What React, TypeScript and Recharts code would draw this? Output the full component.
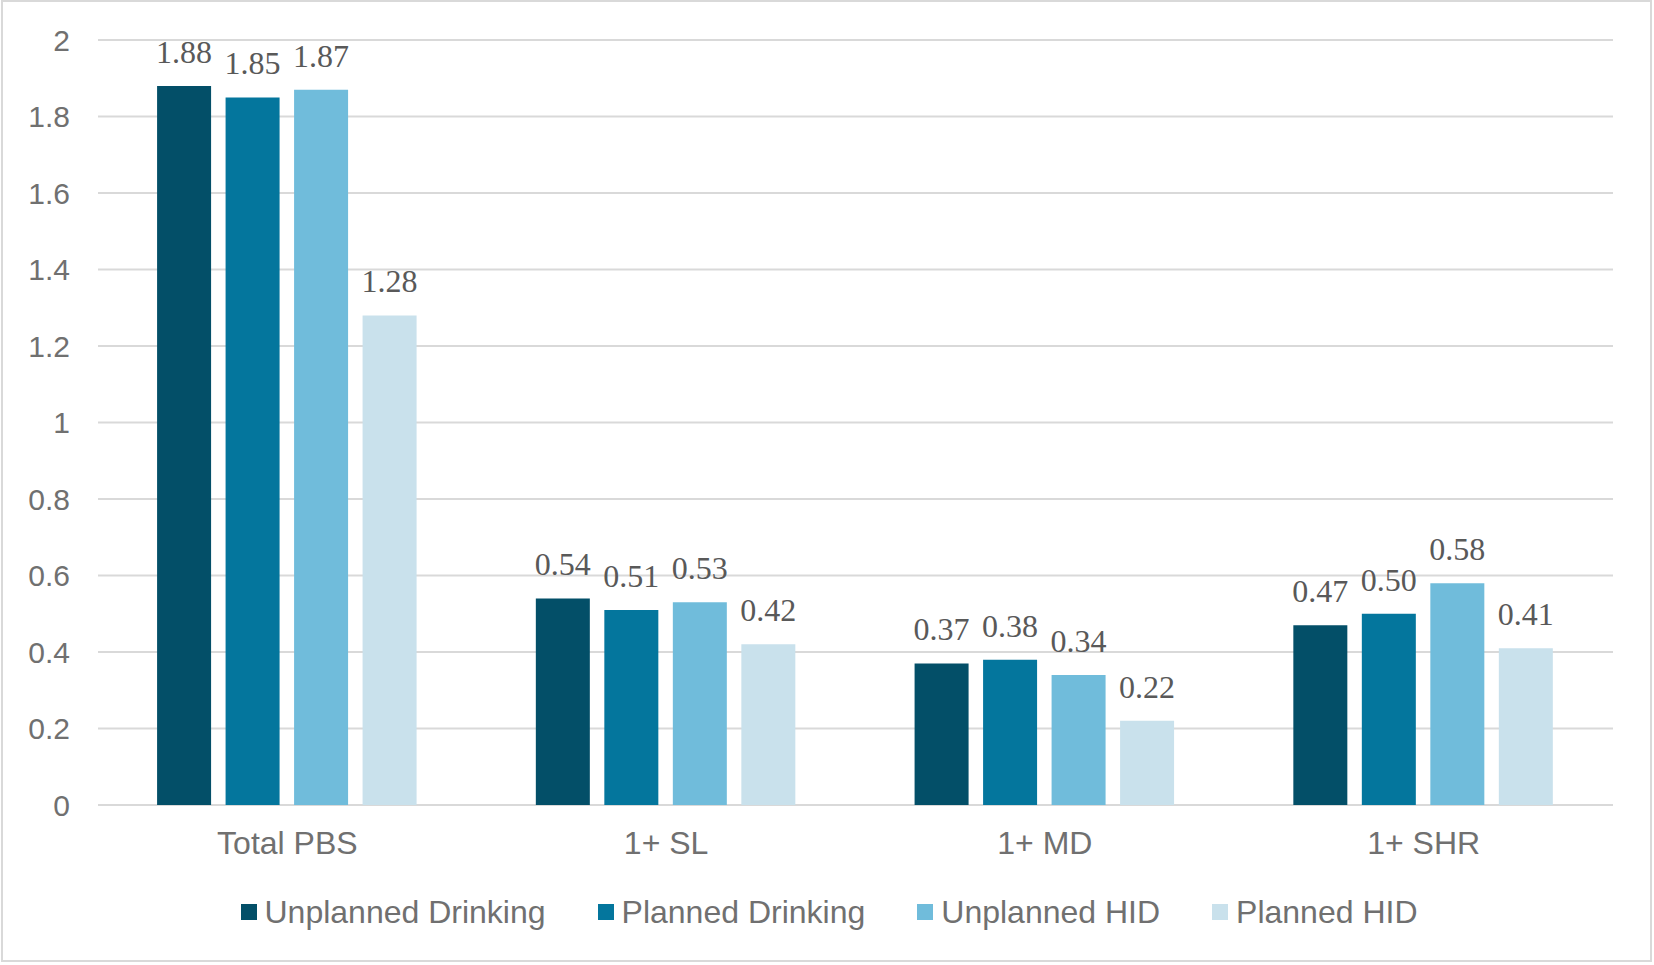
import React from 'react'
import { BarChart, Bar, XAxis, YAxis, CartesianGrid, LabelList } from 'recharts'

const categories = ['Total PBS', '1+ SL', '1+ MD', '1+ SHR']
const unplannedDrinking = [1.88, 0.54, 0.37, 0.47]
const plannedDrinking = [1.85, 0.51, 0.38, 0.5]
const unplannedHid = [1.87, 0.53, 0.34, 0.58]
const plannedHid = [1.28, 0.42, 0.22, 0.41]
const yTicks = [0, 0.2, 0.4, 0.6, 0.8, 1, 1.2, 1.4, 1.6, 1.8, 2]

const series = [
  { key: 'unplannedDrinking', name: 'Unplanned Drinking', color: '#034f68' },
  { key: 'plannedDrinking', name: 'Planned Drinking', color: '#04769d' },
  { key: 'unplannedHid', name: 'Unplanned HID', color: '#70bcdb' },
  { key: 'plannedHid', name: 'Planned HID', color: '#c9e1ec' },
]

const data = categories.map((name, i) => ({
  name,
  unplannedDrinking: unplannedDrinking[i],
  plannedDrinking: plannedDrinking[i],
  unplannedHid: unplannedHid[i],
  plannedHid: plannedHid[i],
}))

const sans = '"Liberation Sans", Arial, sans-serif'
const serif = '"Liberation Serif", "Times New Roman", serif'

// legend sits under the axis, drawn outside the chart so it doesn't shrink the plot
function LegendRow() {
  return (
    <div
      style={{
        position: 'absolute',
        left: 2,
        top: 896,
        width: 1654,
        display: 'flex',
        justifyContent: 'center',
        alignItems: 'center',
        fontFamily: sans,
        fontSize: 32,
        lineHeight: '32px',
        color: '#707070',
      }}
    >
      {series.map((s, i) => (
        <div
          key={s.key}
          style={{
            display: 'flex',
            alignItems: 'center',
            marginRight: i < series.length - 1 ? 52 : 0,
          }}
        >
          <span style={{ width: 16, height: 16, background: s.color, marginRight: 8 }} />
          <span>{s.name}</span>
        </div>
      ))}
    </div>
  )
}

export default function App() {
  return (
    <div style={{ position: 'absolute', left: 0, top: 0, width: 1654, height: 965, background: '#fff' }}>
      <div
        style={{
          position: 'absolute',
          left: 1,
          top: 0,
          width: 1651,
          height: 962,
          border: '2px solid #d9d9d9',
          boxSizing: 'border-box',
        }}
      />
      <BarChart
        width={1654}
        height={965}
        data={data}
        margin={{ top: 40, right: 41, left: 38, bottom: 100 }}
        barCategoryGap="15.6%"
        barGap={14.5}
      >
        <CartesianGrid vertical={false} stroke="#d9d9d9" strokeWidth={2} />
        <XAxis
          dataKey="name"
          axisLine={false}
          tickLine={false}
          tickSize={0}
          tickMargin={26}
          height={60}
          tick={{ fill: '#707070', fontSize: 32, fontFamily: sans }}
        />
        <YAxis
          width={60}
          domain={[0, 2]}
          ticks={yTicks}
          axisLine={false}
          tickLine={false}
          tickSize={0}
          tickMargin={28}
          tick={{ fill: '#707070', fontSize: 30, fontFamily: sans }}
        />
        {series.map((s) => (
          <Bar key={s.key} dataKey={s.key} name={s.name} fill={s.color} isAnimationActive={false}>
            <LabelList
              dataKey={s.key}
              position="top"
              offset={23}
              formatter={(v: number) => v.toFixed(2)}
              style={{ fill: '#595959', fontSize: 32, fontFamily: serif }}
            />
          </Bar>
        ))}
      </BarChart>
      <LegendRow />
    </div>
  )
}
